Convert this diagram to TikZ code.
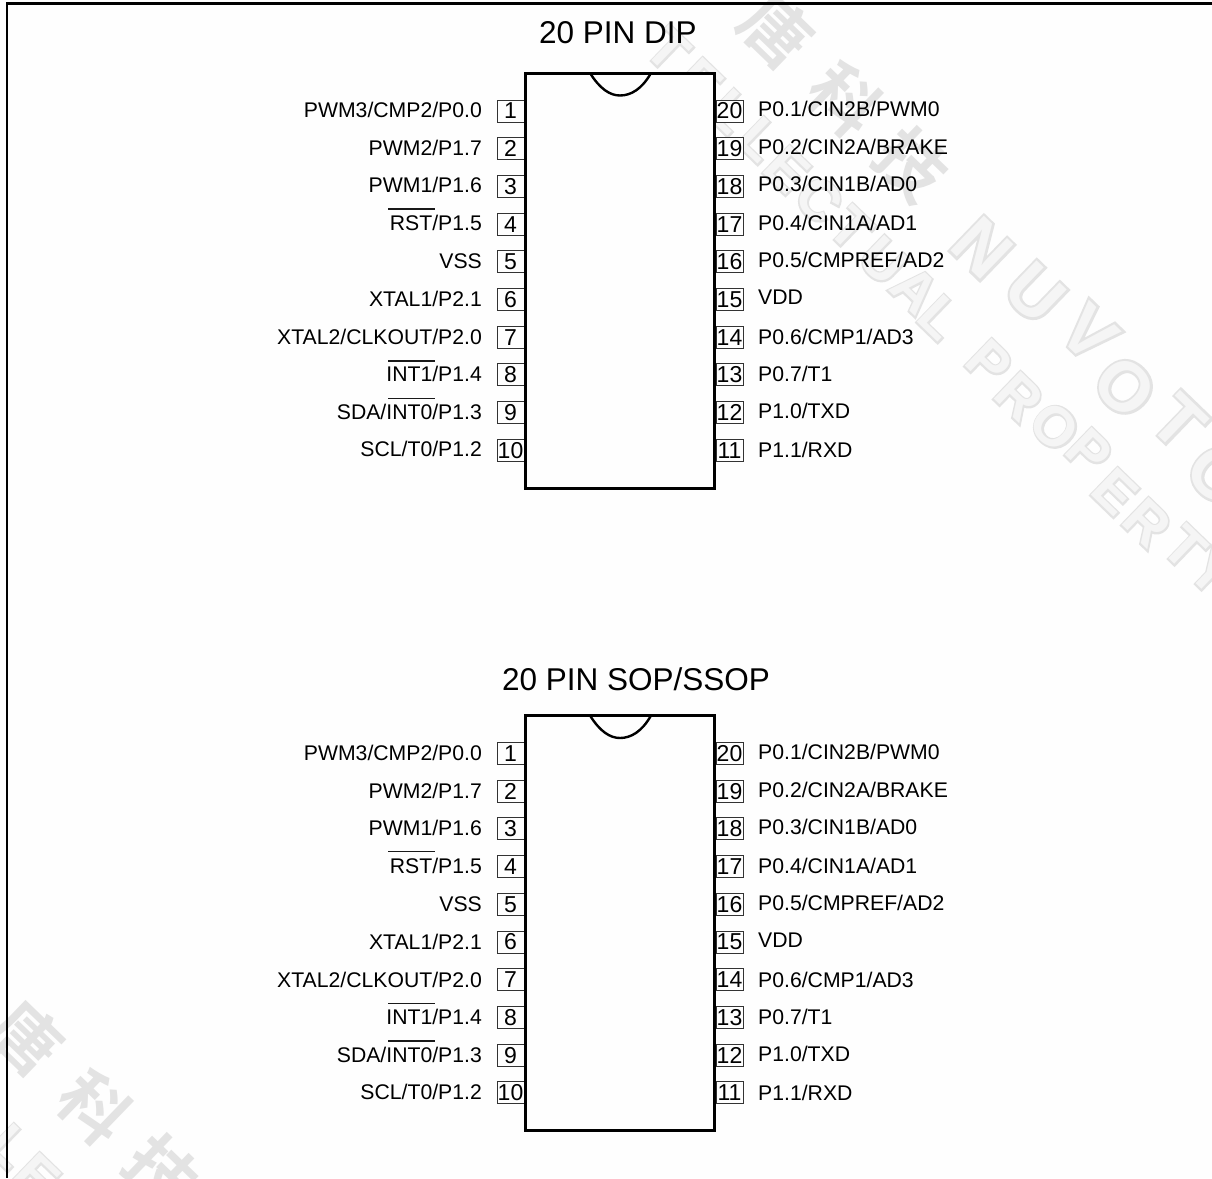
\documentclass[tikz,border=0pt]{standalone}
\usepackage{fontspec}
\setmainfont{Liberation Sans}
\newfontfamily\cjkwm{Noto Sans CJK TC Bold}
\newfontfamily\wmbase{Liberation Sans Bold}
\newfontfamily\wmfatA[FakeBold=6]{Liberation Sans Bold}
\newfontfamily\wmfatB[FakeBold=7]{Liberation Sans Bold}
\definecolor{wm}{gray}{0.89}
\definecolor{wmin}{gray}{0.96}
\definecolor{paper}{gray}{0.996}
\tikzset{
 lab/.style={inner sep=0pt,font=\fontsize{21.2}{21}\selectfont,text=black},
 labl/.style={lab,anchor=base east},
 labr/.style={lab,anchor=base west},
 pinbox/.style={draw=black!80,line width=0.9pt,minimum width=27pt,minimum height=22pt,inner sep=0pt,anchor=center,fill=paper,font=\fontsize{23}{23}\selectfont},
 chip/.style={draw=black,line width=3pt,fill=paper,minimum width=189pt,minimum height=415pt,inner sep=0pt,outer sep=0pt,anchor=north west,line join=miter},
 title/.style={inner sep=0pt,font=\fontsize{31.5}{32}\selectfont},
 frameln/.style={draw=black,line width=2.6pt},
 notch/.style={draw=black,line width=2.4pt},
 bar/.style={draw=black!90,line width=1.2pt},
 wmcjk/.style={inner sep=0pt,text=wm,rotate=-44,font=\cjkwm\fontsize{68}{68}\selectfont},
 wmletter/.style={inner sep=0pt,rotate=-44},
}
\newcommand{\bigletters}[1]{%
 \foreach \lname/\lx/\ly/\lt in {#1}{
  \node[wmletter,text=wm,font=\wmfatB\fontsize{70}{70}\selectfont] (big\lname o) at (\lx,\ly) {\lt};
  \node[wmletter,text=wmin,font=\wmbase\fontsize{70}{70}\selectfont] (big\lname i) at (\lx,\ly) {\lt};
 }}
\newcommand{\smallletters}[1]{%
 \foreach \lname/\lx/\ly/\lt in {#1}{
  \node[wmletter,text=wm,font=\wmfatA\fontsize{56}{56}\selectfont] (sm\lname o) at (\lx,\ly) {\lt};
  \node[wmletter,text=wmin,font=\wmbase\fontsize{56}{56}\selectfont] (sm\lname i) at (\lx,\ly) {\lt};
 }}
\newcommand{\chipdrawing}[2]{% name, y offset
 \begin{scope}[shift={(0,#2)}]
 \foreach \n/\t/\yc in {1/PWM3\slash CMP2\slash P0.0/110,2/PWM2\slash P1.7/148,3/PWM1\slash P1.6/185,4/RST\slash P1.5/223,5/VSS/261,6/XTAL1\slash P2.1/299,7/XTAL2\slash CLKOUT\slash P2.0/337,8/INT1\slash P1.4/374,9/SDA\slash INT0\slash P1.3/412,10/SCL\slash T0\slash P1.2/449}{
   \node[pinbox] (#1p\n) at (510.5,{111+37.7*(\n-1)}) {\n};
   \node[labl] (#1l\n) at (482,\yc+7.5) {\t};
 }
 \foreach \n/\t/\yc in {20/P0.1\slash CIN2B\slash PWM0/109,19/P0.2\slash CIN2A\slash BRAKE/147,18/P0.3\slash CIN1B\slash AD0/184,17/P0.4\slash CIN1A\slash AD1/223,16/P0.5\slash CMPREF\slash AD2/260,15/VDD/297,14/P0.6\slash CMP1\slash AD3/337,13/P0.7\slash T1/374,12/P1.0\slash TXD/411,11/P1.1\slash RXD/450}{
   \node[pinbox] (#1p\n) at (729.5,{111+37.7*(20-\n)}) {\n};
   \node[labr] (#1l\n) at (758,\yc+7.5) {\t};
 }
 \node[chip] (#1body) at (525.5,73) {};
 \draw[notch] (590,73) .. controls (600,89) and (610,95.5) .. (620,95.5) .. controls (631,95.5) and (642,89) .. (651,73);
 \draw[bar] (388,209) -- (435,209);
 \draw[bar] (388,361) -- (435,361);
 \draw[bar] (388,398.5) -- (435,398.5);
 \end{scope}
}
\begin{document}
\begin{tikzpicture}[x=1pt,y=-1pt]
\useasboundingbox (0,0) rectangle (1212,1178);
\fill[paper] (0,0) rectangle (1212,1178);
% watermark, top right
\node[wmcjk] (w1) at (777,30) {唐};
\node[wmcjk] (w2) at (845,100) {科};
\node[wmcjk] (w3) at (912,165) {技};
\bigletters{a/982/248/N,b/1035/293/U,c/1089/333/V,d/1125/387/O,e/1179/422/T,f/1218/475/O}
\smallletters{s/668/50/T,t/700/82/E,a/730/112/L,b/760/140/L,c/787/170/E,d/819/200/C,e/851/229/T,f/883/261/U,g/915/290/A,h/940/318/L,i/989/363/P,j/1019/397/R,k/1055/427/O,l/1089/452/P,m/1115/492/E,n/1147/523/R,o/1185/548/T,p/1212/573/Y}
% watermark, bottom left
\node[wmcjk] (w4) at (27,1037) {唐};
\node[wmcjk] (w5) at (95,1107) {科};
\node[wmcjk] (w6) at (162,1172) {技};
\smallletters{q/10/1147/L,r/37/1177/E}
% frame
\draw[frameln] (1212,3.5) -- (7,3.5) -- (7,1178);
\node[title] (t1) at (618,33) {20 PIN DIP};
\node[title] (t2) at (636,679) {20 PIN SOP/SSOP};
\chipdrawing{a}{0}
\chipdrawing{b}{642.5}
\end{tikzpicture}
\end{document}
